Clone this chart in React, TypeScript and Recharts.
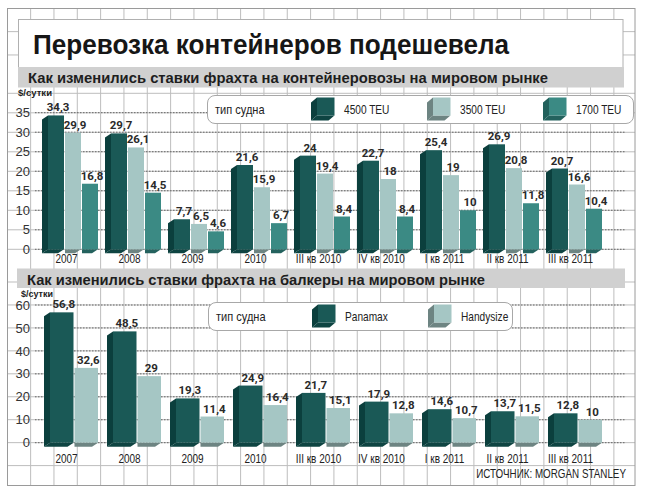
import { Bar, BarChart, CartesianGrid, LabelList, Legend, XAxis, YAxis } from "recharts";

const categories = ["2007", "2008", "2009", "2010", "III кв 2010", "IV кв 2010", "I кв 2011", "II кв 2011", "III кв 2011"];

// контейнеровозы, $/сутки (тыс.)
const teu4500 = [34.3, 29.7, 7.7, 21.6, 24, 22.7, 25.4, 26.9, 20.7];
const teu3500 = [29.9, 26.1, 6.5, 15.9, 19.4, 18, 19, 20.8, 16.6];
const teu1700 = [16.8, 14.5, 4.6, 6.7, 8.4, 8.4, 10, 11.8, 10.4];

// балкеры
const panamax = [56.8, 48.5, 19.3, 24.9, 21.7, 17.9, 14.6, 13.7, 12.8];
const handysize = [32.6, 29, 11.4, 16.4, 15.1, 12.8, 10.7, 11.5, 10];

const ticksTop = [0, 5, 10, 15, 20, 25, 30, 35];
const ticksBottom = [0, 10, 20, 30, 40, 50, 60];

const seriesOrder = ["t4500", "t3500", "t1700", "panamax", "handysize"];

const W = 646;
const H = 495;
const SANS = "'Liberation Sans', Arial, sans-serif";
const BOLD = "Roboto, 'Liberation Sans', sans-serif";

const palette: Record<string, { front: string; side: string; bottom: string }> = {
  t4500: { front: "#1a5956", side: "#0b3f3d", bottom: "#0e4442" },
  t3500: { front: "#a5c6c4", side: "#6d8482", bottom: "#6d8482" },
  t1700: { front: "#3b8a84", side: "#22615c", bottom: "#24625e" },
  panamax: { front: "#1a5956", side: "#0b3f3d", bottom: "#0e4442" },
  handysize: { front: "#a5c6c4", side: "#6d8482", bottom: "#6d8482" },
};

const topData = categories.map((name, i) => ({
  name,
  t4500: teu4500[i],
  t3500: teu3500[i],
  t1700: teu1700[i],
}));

const bottomData = categories.map((name, i) => ({
  name,
  panamax: panamax[i],
  handysize: handysize[i],
}));

const fmt = (v: number) => String(v).replace(".", ",");

// 3D-ish box: front face, darker left side, floor face under the bar
function boxShape(key: string, dx: number, withSide: boolean) {
  const c = palette[key];
  const ox = 6;
  const oy = 4;
  return (props: any) => {
    const { y, width: w, height: h } = props;
    const x = props.x + dx;
    if (h == null || isNaN(h)) return <g />;
    const b = y + h;
    return (
      <g>
        {withSide && (
          <polygon
            points={`${x},${y} ${x - ox},${y + oy} ${x - ox},${b + oy} ${x},${b}`}
            fill={c.side}
          />
        )}
        <polygon
          points={`${x},${b} ${x + w},${b} ${x + w - ox},${b + oy} ${withSide ? x - ox : x},${b + oy}`}
          fill={c.bottom}
        />
        <rect x={x} y={y} width={w} height={h} fill={c.front} />
      </g>
    );
  };
}

function valueLabel(dx: number) {
  return (props: any) => {
    const { x, y, width, value } = props;
    return (
      <text
        x={x + dx + width / 2 + 2}
        y={y - 4}
        textAnchor="middle"
        fontFamily={BOLD}
        fontWeight={700}
        fontSize={11.5}
        fill="#2a2a2a"
      >
        {fmt(value)}
      </text>
    );
  };
}

function CategoryTick({ x, y, payload, dy }: any) {
  return (
    <g transform={`translate(${x},${y})`}>
      <text
        x={0}
        y={0}
        dy={dy}
        textAnchor="middle"
        transform="scale(0.8,1)"
        fontFamily={SANS}
        fontSize={12.5}
        fill="#222"
      >
        {payload.value}
      </text>
    </g>
  );
}

function Swatch({ x, y, c }: { x: number; y: number; c: { front: string; side: string; bottom: string } }) {
  return (
    <g>
      <polygon points={`${x + 6},${y} ${x},${y + 5} ${x},${y + 23} ${x + 6},${y + 18}`} fill={c.side} />
      <polygon points={`${x + 6},${y + 18} ${x + 23.5},${y + 18} ${x + 17.5},${y + 23} ${x},${y + 23}`} fill={c.bottom} />
      <rect x={x + 6} y={y} width={17.5} height={18} fill={c.front} />
    </g>
  );
}

function LegendBox({ payload, width, height }: any) {
  const items = [...(payload || [])].sort(
    (a: any, b: any) => seriesOrder.indexOf(a.dataKey) - seriesOrder.indexOf(b.dataKey)
  );
  return (
    <div
      style={{
        width,
        height,
        boxSizing: "border-box",
        border: "1px solid #a8a8a8",
        borderRadius: 8,
        background: "#fff",
      }}
    >
      <svg width={width - 2} height={height - 2} style={{ display: "block" }}>
        <text
          transform="translate(7,18) scale(0.85,1)"
          fontFamily={SANS}
          fontSize={13}
          fill="#222"
        >
          тип судна
        </text>
        {items.map((item: any, i: number) => {
          const sx = 103 + 116 * i;
          return (
            <g key={item.value}>
              <Swatch x={sx} y={1.5} c={palette[item.dataKey]} />
              <text
                transform={`translate(${sx + 33},18) scale(0.78,1)`}
                fontFamily={SANS}
                fontSize={13}
                fill="#222"
              >
                {item.value}
              </text>
            </g>
          );
        })}
      </svg>
    </div>
  );
}

function Background() {
  const vLines: number[] = [];
  for (let x = 7.3 + 23.33; x < 634; x += 23.33) vLines.push(x);
  const hLines: number[] = [8.3 + 23.33, 8.3 + 46.66];
  for (let y = 249.3 - 19.5 * 8; y < 262; y += 19.5) hLines.push(y);
  for (let y = 282; y < 480; y += 22.95) hLines.push(y);
  return (
    <svg width={W} height={H} style={{ position: "absolute", left: 0, top: 0 }}>
      <rect x={0} y={0} width={W} height={H} fill="#fff" />
      {vLines.map((x) => (
        <line key={"v" + x} x1={x} x2={x} y1={8.5} y2={485.5} stroke="#bdbdbd" />
      ))}
      {hLines.map((y) => (
        <line key={"h" + y} x1={7.5} x2={635} y1={y} y2={y} stroke="#bdbdbd" />
      ))}
      <rect x={7.5} y={8.5} width={627.5} height={477} fill="none" stroke="#9a9a9a" />

      <rect x={18.5} y={19.5} width={604.5} height={48} fill="#fff" stroke="#b0b0b0" />
      <text
        x={33}
        y={53.5}
        fontFamily={SANS}
        fontWeight={700}
        fontSize={28}
        textLength={476}
        lengthAdjust="spacingAndGlyphs"
        fill="#161616"
      >
        Перевозка контейнеров подешевела
      </text>

      <rect x={18} y={67} width={606} height={20.5} fill="#d0d0d0" />
      <text
        x={28}
        y={82.5}
        fontFamily={SANS}
        fontWeight={700}
        fontSize={15.5}
        textLength={520}
        lengthAdjust="spacingAndGlyphs"
        fill="#1e1e1e"
      >
        Как изменились ставки фрахта на контейнеровозы на мировом рынке
      </text>
      <text x={18} y={95.5} fontFamily={SANS} fontWeight={700} fontSize={9} textLength={34} lengthAdjust="spacingAndGlyphs" fill="#222">
        $/сутки
      </text>

      <rect x={17} y={268.5} width={608} height={19.5} fill="#d0d0d0" />
      <text
        x={27}
        y={285}
        fontFamily={SANS}
        fontWeight={700}
        fontSize={15.5}
        textLength={458}
        lengthAdjust="spacingAndGlyphs"
        fill="#1e1e1e"
      >
        Как изменились ставки фрахта на балкеры на мировом рынке
      </text>
      <text x={21} y={296.5} fontFamily={SANS} fontWeight={700} fontSize={9} textLength={32} lengthAdjust="spacingAndGlyphs" fill="#222">
        $/сутки
      </text>

      <text
        transform="translate(626,477.5) scale(0.82,1)"
        textAnchor="end"
        fontFamily={SANS}
        fontSize={12}
        fill="#222"
      >
        ИСТОЧНИК: MORGAN STANLEY
      </text>
    </svg>
  );
}

const yTick = { fill: "#333", fontSize: 13, fontFamily: SANS };

function ContainerChart() {
  return (
    <div style={{ position: "absolute", left: 0, top: 0 }}>
      <BarChart
        width={W}
        height={H}
        data={topData}
        margin={{ top: 112.7, right: 21, bottom: 225.7, left: 0 }}
        barGap={1}
      >
        <CartesianGrid vertical={false} stroke="#666" strokeDasharray="1.5 1.5" />
        <XAxis
          dataKey="name"
          axisLine={false}
          tickLine={false}
          tickSize={0}
          tickMargin={0}
          height={20}
          interval={0}
          padding={{ left: 0, right: 23 }}
          tick={(p: any) => <CategoryTick {...p} dy={14} />}
        />
        <YAxis
          domain={[0, 35]}
          ticks={ticksTop}
          interval={0}
          axisLine={false}
          tickLine={false}
          tickSize={0}
          tickMargin={5}
          width={35}
          tick={yTick}
        />
        <Legend
          layout="vertical"
          align="center"
          verticalAlign="middle"
          wrapperStyle={{ left: 207, top: 95, width: 427, height: 29 }}
          content={(p: any) => <LegendBox {...p} width={427} height={29} />}
        />
        <Bar dataKey="t4500" name="4500 TEU" fill={palette.t4500.front} barSize={16} shape={boxShape("t4500", 6, true)} isAnimationActive={false}>
          <LabelList dataKey="t4500" content={valueLabel(6)} />
        </Bar>
        <Bar dataKey="t3500" name="3500 TEU" fill={palette.t3500.front} barSize={16} shape={boxShape("t3500", 6, false)} isAnimationActive={false}>
          <LabelList dataKey="t3500" content={valueLabel(6)} />
        </Bar>
        <Bar dataKey="t1700" name="1700 TEU" fill={palette.t1700.front} barSize={16} shape={boxShape("t1700", 6, false)} isAnimationActive={false}>
          <LabelList dataKey="t1700" content={valueLabel(6)} />
        </Bar>
      </BarChart>
    </div>
  );
}

function BulkChart() {
  return (
    <div style={{ position: "absolute", left: 0, top: 0 }}>
      <BarChart
        width={W}
        height={H}
        data={bottomData}
        margin={{ top: 305, right: 21, bottom: 32.3, left: 0 }}
        barGap={1}
      >
        <CartesianGrid vertical={false} stroke="#666" strokeDasharray="1.5 1.5" />
        <XAxis
          dataKey="name"
          axisLine={false}
          tickLine={false}
          tickSize={0}
          tickMargin={0}
          height={20}
          interval={0}
          padding={{ left: 0, right: 23 }}
          tick={(p: any) => <CategoryTick {...p} dy={20} />}
        />
        <YAxis
          domain={[0, 60]}
          ticks={ticksBottom}
          interval={0}
          axisLine={false}
          tickLine={false}
          tickSize={0}
          tickMargin={5}
          width={35}
          tick={yTick}
        />
        <Legend
          layout="vertical"
          align="center"
          verticalAlign="middle"
          wrapperStyle={{ left: 208, top: 301.5, width: 305, height: 29 }}
          content={(p: any) => <LegendBox {...p} width={305} height={29} />}
        />
        <Bar dataKey="panamax" name="Panamax" fill={palette.panamax.front} barSize={23.5} shape={boxShape("panamax", 7, true)} isAnimationActive={false}>
          <LabelList dataKey="panamax" content={valueLabel(7)} />
        </Bar>
        <Bar dataKey="handysize" name="Handysize" fill={palette.handysize.front} barSize={23.5} shape={boxShape("handysize", 7, false)} isAnimationActive={false}>
          <LabelList dataKey="handysize" content={valueLabel(7)} />
        </Bar>
      </BarChart>
    </div>
  );
}

export default function App() {
  return (
    <div style={{ position: "absolute", left: 0, top: 0, width: W, height: H, background: "#fff" }}>
      <Background />
      <ContainerChart />
      <BulkChart />
    </div>
  );
}
